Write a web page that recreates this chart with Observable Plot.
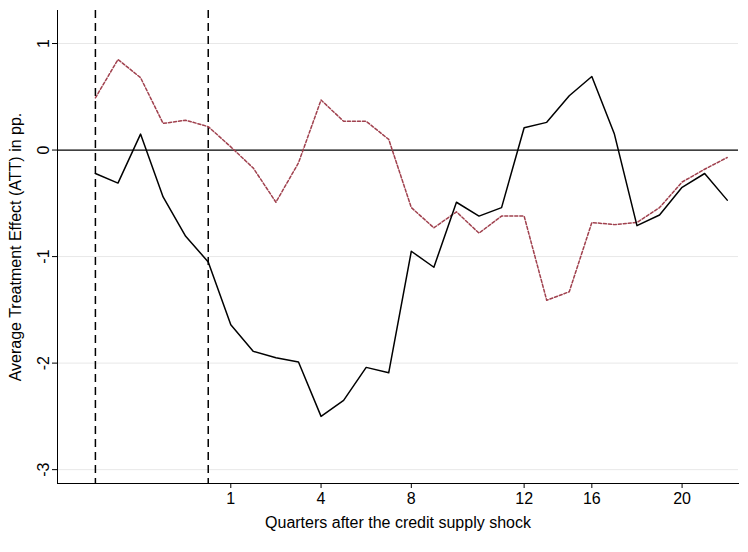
<!DOCTYPE html>
<html><head><meta charset="utf-8">
<script src="https://cdn.jsdelivr.net/npm/d3@7"></script>
<script src="https://cdn.jsdelivr.net/npm/@observablehq/plot@0.6"></script>
<style>body{margin:0;background:#fff;font-family:Arial,"Liberation Sans",sans-serif}</style>
</head><body><div id="c"></div>
<script>
const att = [-0.22,-0.31,0.15,-0.44,-0.81,-1.05,-1.64,-1.89,-1.95,-1.99,-2.50,-2.35,-2.04,-2.09,-0.95,-1.10,-0.49,-0.62,-0.54,0.21,0.26,0.51,0.69,0.15,-0.71,-0.61,-0.35,-0.22,-0.47];
const placebo = [0.49,0.85,0.68,0.25,0.28,0.22,0.03,-0.17,-0.49,-0.12,0.47,0.27,0.27,0.10,-0.54,-0.73,-0.58,-0.78,-0.62,-0.62,-1.41,-1.33,-0.68,-0.70,-0.68,-0.54,-0.30,-0.18,-0.07];
const xTickPos = [6,10,14,19,22,26];
const xTickLabels = ["1","4","8","12","16","20"];
const yTicks = [1,0,-1,-2,-3];
const vlines = [0,5];
const a = att.map((v,i)=>({i,v}));
const p = placebo.map((v,i)=>({i,v}));
const fx = d=>xTickLabels[xTickPos.indexOf(d)];
const chart = Plot.plot({
  width:748, height:540, marginLeft:57, marginRight:10, marginTop:10, marginBottom:57,
  style:{fontSize:"16px", fontFamily:"Arial, Liberation Sans, sans-serif"},
  x:{domain:[-1.68,28.5]},
  y:{domain:[-3.13,1.31]},
  marks:[
    Plot.ruleY([1,-1,-2,-3],{stroke:"#e8e8e8"}),
    Plot.ruleY([0],{stroke:"#000",strokeWidth:1.2}),
    Plot.ruleX(vlines,{stroke:"#000",strokeDasharray:"8,5",strokeWidth:1.5}),
    Plot.line(p,{x:"i",y:"v",stroke:"#a0414e",strokeDasharray:"3,2",strokeWidth:1.5}),
    Plot.line(a,{x:"i",y:"v",stroke:"#000",strokeWidth:1.5}),
    Plot.axisX({ticks:xTickPos, tickFormat:fx, tickSize:5, label:"Quarters after the credit supply shock", labelArrow:"none", labelAnchor:"center", labelOffset:44, fontSize:16}),
    Plot.axisY({ticks:yTicks, tickFormat:d=>String(d), tickSize:5, tickRotate:-90, label:"Average Treatment Effect (ATT) in pp.", labelArrow:"none", labelAnchor:"center", labelOffset:48, fontSize:16}),
    Plot.frame({anchor:"left"}), Plot.frame({anchor:"bottom"})
  ]
});
document.getElementById("c").append(chart);
</script></body></html>
